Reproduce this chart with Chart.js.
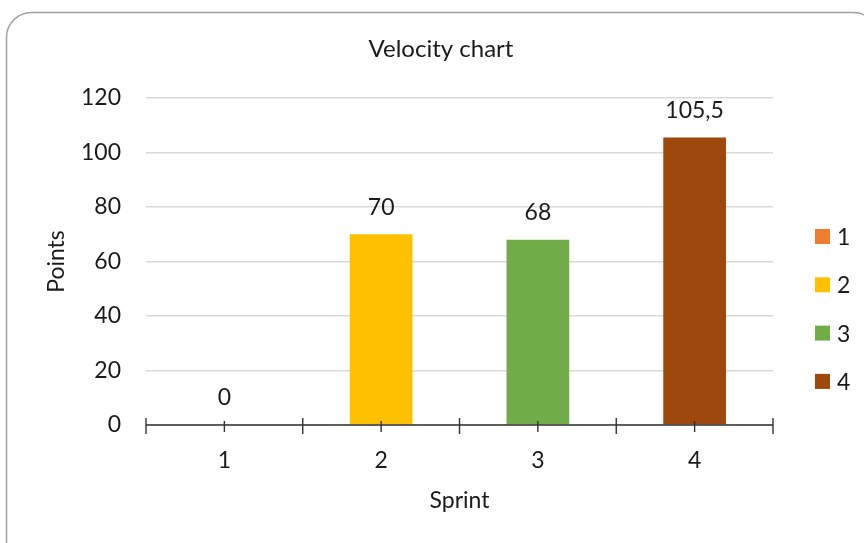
<!DOCTYPE html>
<html>
<head>
<meta charset="utf-8">
<script src="https://cdn.jsdelivr.net/npm/chart.js@4.4.1/dist/chart.umd.min.js"></script>
<style>
  html, body { margin: 0; padding: 0; background: #ffffff; }
  #wrap { width: 864px; height: 543px; }
</style>
</head>
<body>
<div id="wrap"><canvas id="chart" width="864" height="543"></canvas></div>
<script>
// Sprint velocity data
const sprints = ['1', '2', '3', '4'];
const points = [0, 70, 68, 105.5];
const sprintColors = ['#ED7D31', '#FFC000', '#70AD47', '#9E480E'];
const yTicks = [0, 20, 40, 60, 80, 100, 120];
const chartTitle = 'Velocity chart';

const FONT = 'Lato, "Open Sans", sans-serif';
const TEXT = '#1a1a1a';

const fmt = v => String(v).replace('.', ',');

// Rounded frame around the whole chart, plus the heading centred in the frame
const framePlugin = {
  id: 'frame',
  beforeDraw(chart) {
    const ctx = chart.ctx;
    ctx.save();
    ctx.fillStyle = '#ffffff';
    ctx.fillRect(0, 0, chart.width, chart.height);
    ctx.beginPath();
    ctx.roundRect(6.5, 12.5, 872, 560, 25);
    ctx.strokeStyle = '#a0a0a0';
    ctx.lineWidth = 1.5;
    ctx.stroke();
    ctx.font = '24px ' + FONT;
    ctx.fillStyle = TEXT;
    ctx.textAlign = 'center';
    ctx.textBaseline = 'middle';
    ctx.fillText(chartTitle, 441, 49);
    ctx.restore();
  }
};

// Tick marks crossing the category axis: long ones between categories, short ones at centres
const axisTicksPlugin = {
  id: 'axisTicks',
  afterDatasetsDraw(chart) {
    const x = chart.scales.x;
    const y0 = chart.scales.y.getPixelForValue(0);
    const ctx = chart.ctx;
    ctx.save();
    ctx.strokeStyle = '#333333';
    ctx.lineWidth = 1.4;
    ctx.beginPath();
    ctx.moveTo(chart.chartArea.left, y0);
    ctx.lineTo(chart.chartArea.right, y0);
    for (let i = 0; i < sprints.length; i++) {
      const c = x.getPixelForValue(i);
      ctx.moveTo(c, y0 - 4);
      ctx.lineTo(c, y0 + 7);
    }
    for (let i = 0; i <= sprints.length; i++) {
      const b = x.getPixelForValue(i - 0.5);
      ctx.moveTo(b, y0 - 7);
      ctx.lineTo(b, y0 + 9);
    }
    ctx.stroke();
    ctx.restore();
  }
};

// Value labels above each bar
const valueLabelsPlugin = {
  id: 'valueLabels',
  afterDatasetsDraw(chart) {
    const ctx = chart.ctx;
    const meta = chart.getDatasetMeta(0);
    ctx.save();
    ctx.font = '23px ' + FONT;
    ctx.fillStyle = TEXT;
    ctx.textAlign = 'center';
    ctx.textBaseline = 'middle';
    meta.data.forEach((bar, i) => {
      ctx.fillText(fmt(points[i]), bar.x, bar.y - 27);
    });
    ctx.restore();
  }
};

// Legend column on the right, one entry per sprint
const sideLegendPlugin = {
  id: 'sideLegend',
  afterDraw(chart) {
    const ctx = chart.ctx;
    ctx.save();
    ctx.font = '23px ' + FONT;
    ctx.textAlign = 'left';
    ctx.textBaseline = 'middle';
    const top = 236.5, step = 48.3;
    sprints.forEach((s, i) => {
      const cy = top + i * step;
      ctx.fillStyle = sprintColors[i];
      ctx.fillRect(815, cy - 7.5, 15, 15);
      ctx.fillStyle = TEXT;
      ctx.fillText(s, 837, cy + 1);
    });
    ctx.restore();
  }
};

new Chart(document.getElementById('chart'), {
  type: 'bar',
  data: {
    labels: sprints,
    datasets: [{
      label: 'Points',
      data: points,
      backgroundColor: sprintColors,
      borderWidth: 0,
      categoryPercentage: 1.0,
      barPercentage: 0.4
    }]
  },
  options: {
    responsive: false,
    animation: false,
    devicePixelRatio: 1,
    layout: { padding: { left: 0, right: 91, top: 98, bottom: 0 } },
    plugins: {
      legend: { display: false },
      tooltip: { enabled: false },
      title: { display: false }
    },
    scales: {
      x: {
        offset: true,
        grid: { display: false, drawTicks: false },
        border: { display: false },
        ticks: {
          color: TEXT,
          font: { family: FONT, size: 23 },
          padding: 22
        },
        title: {
          display: true,
          text: 'Sprint',
          color: TEXT,
          font: { family: FONT, size: 23 },
          padding: { top: 0, bottom: 29 }
        },
        afterFit(s) { s.height = 118; }
      },
      y: {
        min: 0,
        max: 120,
        afterBuildTicks(s) { s.ticks = yTicks.map(v => ({ value: v })); },
        grid: { color: '#d9d9d9', lineWidth: 1.5, drawTicks: false },
        border: { display: false },
        ticks: {
          color: TEXT,
          font: { family: FONT, size: 23 },
          padding: 25
        },
        title: {
          display: true,
          text: 'Points',
          color: TEXT,
          font: { family: FONT, size: 23 },
          padding: { top: 43, bottom: 0 }
        },
        afterFit(s) { s.width = 146; }
      }
    }
  },
  plugins: [framePlugin, axisTicksPlugin, valueLabelsPlugin, sideLegendPlugin]
});
</script>
</body>
</html>
